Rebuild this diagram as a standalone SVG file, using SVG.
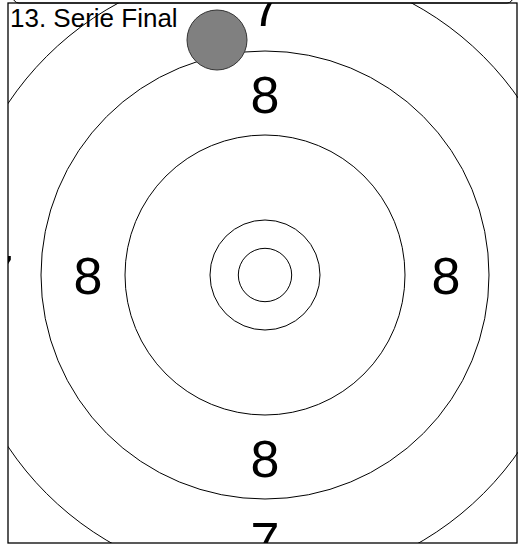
<svg xmlns="http://www.w3.org/2000/svg" width="520" height="547" viewBox="0 0 520 547">
  <style>
    .ring { fill: none; stroke: #000; stroke-width: 1; }
    .num { font-family: "Liberation Sans", Arial, sans-serif; font-size: 52px; fill: #000; text-anchor: middle; }
    .title { font-family: "Liberation Sans", Arial, sans-serif; font-size: 26px; fill: #000; }
  </style>
  <defs>
    <clipPath id="frameClip">
      <rect x="8" y="3" width="510" height="540"/>
    </clipPath>
  </defs>
  <rect x="0" y="0" width="520" height="547" fill="#fff"/>
  <rect x="13" y="-30" width="500" height="33" rx="6" fill="none" stroke="#000" stroke-width="1"/>
  <g id="target" clip-path="url(#frameClip)">
    <g id="rings">
      <circle id="ring-outer" class="ring" cx="265" cy="275" r="309"/>
      <circle id="ring-7" class="ring" cx="265" cy="275" r="224"/>
      <circle id="ring-8" class="ring" cx="265" cy="275" r="140"/>
      <circle id="ring-9" class="ring" cx="265" cy="275" r="55"/>
      <circle id="ring-10" class="ring" cx="265" cy="275" r="26.7"/>
    </g>
    <g id="labels">
      <text class="num" x="265" y="113">8</text>
      <text class="num" x="265" y="477">8</text>
      <text class="num" x="88" y="294">8</text>
      <text class="num" x="446" y="294">8</text>
      <text class="num" x="266" y="26">7</text>
      <text class="num" x="265" y="559">7</text>
      <text class="num" x="-1" y="292">7</text>
      <text class="num" x="531" y="292">7</text>
    </g>
  </g>
  <rect id="frame" x="8" y="3" width="509" height="540" fill="none" stroke="#000" stroke-width="1.3"/>
  <g id="shot">
    <circle cx="217" cy="40" r="30" fill="#808080" stroke="#333" stroke-width="1"/>
  </g>
  <text id="title" class="title" x="10" y="27">13. Serie Final</text>
</svg>
